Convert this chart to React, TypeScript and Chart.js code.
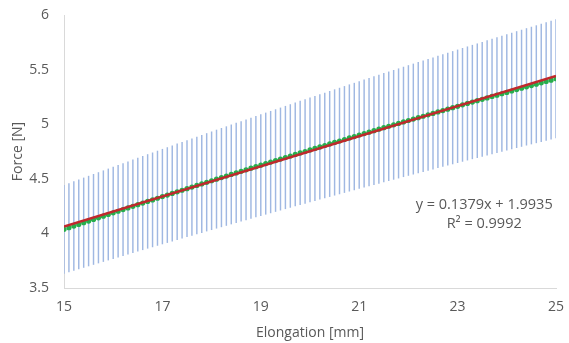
import React, { useEffect, useRef } from "react";
import { Chart, registerables } from "chart.js";

Chart.register(...registerables);

// Elongation [mm], step 0.1 from 15 to 25
const elongation: number[] = [
  15.0, 15.1, 15.2, 15.3, 15.4, 15.5, 15.6, 15.7, 15.8, 15.9,
  16.0, 16.1, 16.2, 16.3, 16.4, 16.5, 16.6, 16.7, 16.8, 16.9,
  17.0, 17.1, 17.2, 17.3, 17.4, 17.5, 17.6, 17.7, 17.8, 17.9,
  18.0, 18.1, 18.2, 18.3, 18.4, 18.5, 18.6, 18.7, 18.8, 18.9,
  19.0, 19.1, 19.2, 19.3, 19.4, 19.5, 19.6, 19.7, 19.8, 19.9,
  20.0, 20.1, 20.2, 20.3, 20.4, 20.5, 20.6, 20.7, 20.8, 20.9,
  21.0, 21.1, 21.2, 21.3, 21.4, 21.5, 21.6, 21.7, 21.8, 21.9,
  22.0, 22.1, 22.2, 22.3, 22.4, 22.5, 22.6, 22.7, 22.8, 22.9,
  23.0, 23.1, 23.2, 23.3, 23.4, 23.5, 23.6, 23.7, 23.8, 23.9,
  24.0, 24.1, 24.2, 24.3, 24.4, 24.5, 24.6, 24.7, 24.8, 24.9,
  25.0,
];

// Force [N]
const force: number[] = [
  4.037, 4.052, 4.067, 4.082, 4.098, 4.113, 4.128, 4.143, 4.158, 4.173,
  4.188, 4.203, 4.218, 4.233, 4.248, 4.263, 4.278, 4.293, 4.307, 4.322,
  4.337, 4.351, 4.366, 4.381, 4.395, 4.410, 4.424, 4.439, 4.453, 4.468,
  4.482, 4.497, 4.511, 4.525, 4.540, 4.554, 4.568, 4.582, 4.597, 4.611,
  4.625, 4.639, 4.653, 4.667, 4.681, 4.695, 4.709, 4.723, 4.737, 4.750,
  4.764, 4.778, 4.792, 4.805, 4.819, 4.833, 4.846, 4.860, 4.874, 4.887,
  4.901, 4.914, 4.927, 4.941, 4.954, 4.968, 4.981, 4.994, 5.007, 5.021,
  5.034, 5.047, 5.060, 5.073, 5.086, 5.099, 5.112, 5.125, 5.138, 5.151,
  5.164, 5.177, 5.190, 5.203, 5.215, 5.228, 5.241, 5.254, 5.266, 5.279,
  5.291, 5.304, 5.317, 5.329, 5.342, 5.354, 5.366, 5.379, 5.391, 5.403,
  5.416,
];

// Percentage error bars (±10 %)
const errorPercent = 10;

// Linear trendline
const trendSlope = 0.1379;
const trendIntercept = 1.9935;
const trendXRange: number[] = [15, 25];
const equationLines: string[] = ["y = 0.1379x + 1.9935", "R² = 0.9992"];

const xTicks: number[] = [15, 17, 19, 21, 23, 25];
const yTicks: number[] = [3.5, 4, 4.5, 5, 5.5, 6];

const FONT = "'Open Sans', 'Liberation Sans', sans-serif";
const TEXT = "#595959";

export default function App() {
  const ref = useRef<HTMLCanvasElement | null>(null);

  useEffect(() => {
    document.body.style.margin = "0";
    const canvas = ref.current;
    if (!canvas) return;

    const pts = elongation.map((x, i) => ({ x, y: force[i] }));
    const errs = elongation.map((x, i) => ({
      x,
      y: [force[i] * (1 - errorPercent / 100), force[i] * (1 + errorPercent / 100)],
    }));
    const trend = trendXRange.map((x) => ({ x, y: trendSlope * x + trendIntercept }));

    const equationPlugin = {
      id: "equation",
      afterDatasetsDraw(chart: any) {
        const { ctx } = chart;
        const xs = chart.scales.x;
        const ys = chart.scales.y;
        const cx = xs.getPixelForValue(23.54);
        const cy = ys.getPixelForValue(4.17);
        ctx.save();
        ctx.fillStyle = TEXT;
        ctx.font = `14.5px ${FONT}`;
        ctx.textAlign = "center";
        ctx.textBaseline = "middle";
        ctx.fillText(equationLines[0], cx, cy - 9.5);
        ctx.fillText(equationLines[1], cx, cy + 9.5);
        ctx.restore();
      },
    };

    const chart = new Chart(canvas, {
      type: "scatter",
      data: {
        datasets: [
          {
            type: "line",
            data: trend,
            borderColor: "#C0282D",
            borderWidth: 2.5,
            pointRadius: 0,
            fill: false,
            order: 0,
          } as any,
          {
            type: "scatter",
            data: pts,
            backgroundColor: "#27AD4C",
            borderColor: "#27AD4C",
            borderWidth: 0,
            pointRadius: 2.6,
            order: 1,
          },
          {
            type: "bar",
            data: errs,
            backgroundColor: "#A0B8E2",
            borderWidth: 0,
            barThickness: 0.8,
            grouped: false,
            order: 2,
          } as any,
        ],
      },
      options: {
        responsive: false,
        animation: false,
        events: [],
        layout: { padding: { top: 15, right: 13, left: 0, bottom: 0 } },
        plugins: { legend: { display: false }, tooltip: { enabled: false } },
        scales: {
          x: {
            type: "linear",
            min: 15,
            max: 25,
            offset: false,
            afterFit: (s: any) => {
              s.height = 55;
              s.paddingLeft = 0;
              s.paddingRight = 0;
            },
            afterBuildTicks: (s: any) => {
              s.ticks = xTicks.map((v) => ({ value: v }));
            },
            grid: { display: false, drawTicks: false },
            border: { display: true, color: "#D9D9D9", width: 1 },
            ticks: {
              color: TEXT,
              font: { family: FONT, size: 14 },
              padding: 11,
              maxRotation: 0,
              callback: (v: any) => String(v),
            },
            title: {
              display: true,
              text: "Elongation [mm]",
              color: TEXT,
              font: { family: FONT, size: 14 },
              padding: { top: 0, bottom: 1.5 },
            },
          },
          y: {
            type: "linear",
            min: 3.5,
            max: 6,
            afterFit: (s: any) => {
              s.width = 64;
              s.paddingTop = 0;
              s.paddingBottom = 0;
            },
            afterBuildTicks: (s: any) => {
              s.ticks = yTicks.map((v) => ({ value: v }));
            },
            grid: { display: false, drawTicks: false },
            border: { display: true, color: "#D9D9D9", width: 1 },
            ticks: {
              color: TEXT,
              font: { family: FONT, size: 14 },
              padding: 15,
              callback: (v: any) => String(v),
            },
            title: {
              display: true,
              text: "Force [N]",
              color: TEXT,
              font: { family: FONT, size: 14 },
              padding: { top: 10, bottom: 0 },
            },
          },
        },
      },
      plugins: [equationPlugin],
    });

    return () => chart.destroy();
  }, []);

  return (
    <div style={{ position: "absolute", left: 0, top: 0, width: 569, height: 343 }}>
      <canvas ref={ref} width={569} height={343} style={{ width: 569, height: 343 }} />
    </div>
  );
}
